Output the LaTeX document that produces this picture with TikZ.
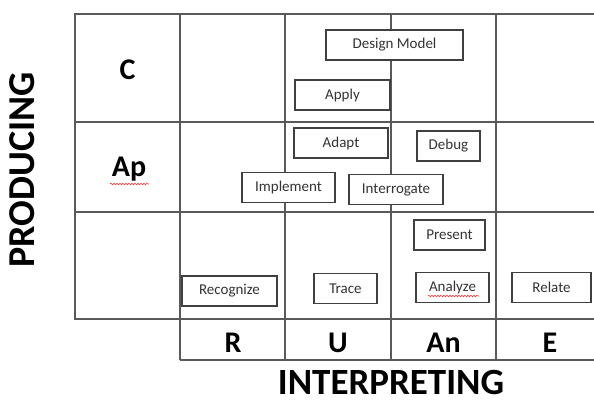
\documentclass[tikz,border=0pt]{standalone}
\usepackage{fontspec}
\setmainfont{Carlito}
\usepackage{tikz}
\usetikzlibrary{decorations.pathmorphing}

\begin{document}
\begin{tikzpicture}[
    x=1pt, y=-1pt,
    grid/.style={draw=black!65, line width=1.5pt},
    box/.style={draw=black!75, fill=white, line width=1.1pt, minimum height=30pt, inner sep=0pt, font=\fontsize{15}{17}\selectfont, text=black!80},
    lvl/.style={anchor=base, font=\fontsize{30}{34}\selectfont\bfseries},
    axis/.style={anchor=base, inner sep=0pt, font=\fontsize{37}{40}\selectfont\bfseries},
    spell/.style={draw=red!80, line width=0.6pt, decorate, decoration={snake, amplitude=0.8pt, segment length=3pt}}
]
\useasboundingbox (0,0) rectangle (594,400);

% the grid
\draw[grid] (594,14) -- (75,14) -- (75,319) -- (594,319);
\draw[grid] (75,122) -- (594,122);
\draw[grid] (75,212) -- (594,212);
\foreach \x in {180,285,391,496} \draw[grid] (\x,14) -- (\x,360);
\draw[grid] (180,360) -- (594,360);

% levels
\node[lvl] (c) at (127.5,79) {C};
\node[lvl] (ap) at (129,176) {Ap};
\node[lvl] (r) at (233,352) {R};
\node[lvl] (u) at (338,352) {U};
\node[lvl] (an) at (443.5,352) {An};
\node[lvl] (e) at (550,352) {E};

% axes
\node[axis] (interp) at (391,394) {INTERPRETING};
\node[axis, rotate=90, font=\fontsize{38}{40}\selectfont\bfseries] (prod) at (34,170) {PRODUCING};

% activities
\node[box, minimum width=137pt] (design) at (394.5,45) {Design Model};
\node[box, minimum width=95pt] (apply) at (342.5,95) {Apply};
\node[box, minimum width=94pt] (adapt) at (341,143) {Adapt};
\node[box, minimum width=63pt] (debug) at (448.5,146) {Debug};
\node[box, minimum width=93pt] (implement) at (288.5,187.5) {Implement};
\node[box, minimum width=94pt] (interrogate) at (396,189.5) {Interrogate};
\node[box, minimum width=71pt] (present) at (449.5,235) {Present};
\node[box, minimum width=95pt] (recognize) at (229.5,291) {Recognize};
\node[box, minimum width=63pt] (trace) at (345.5,288.5) {Trace};
\node[box, minimum width=73pt] (analyze) at (452.5,287.5) {Analyze};
\node[box, minimum width=79pt] (relate) at (551.5,287.5) {Relate};

% spell check marks
\draw[spell] (110,184) -- (149,184);
\draw[spell] (428,296) -- (479,296);
\end{tikzpicture}
\end{document}
